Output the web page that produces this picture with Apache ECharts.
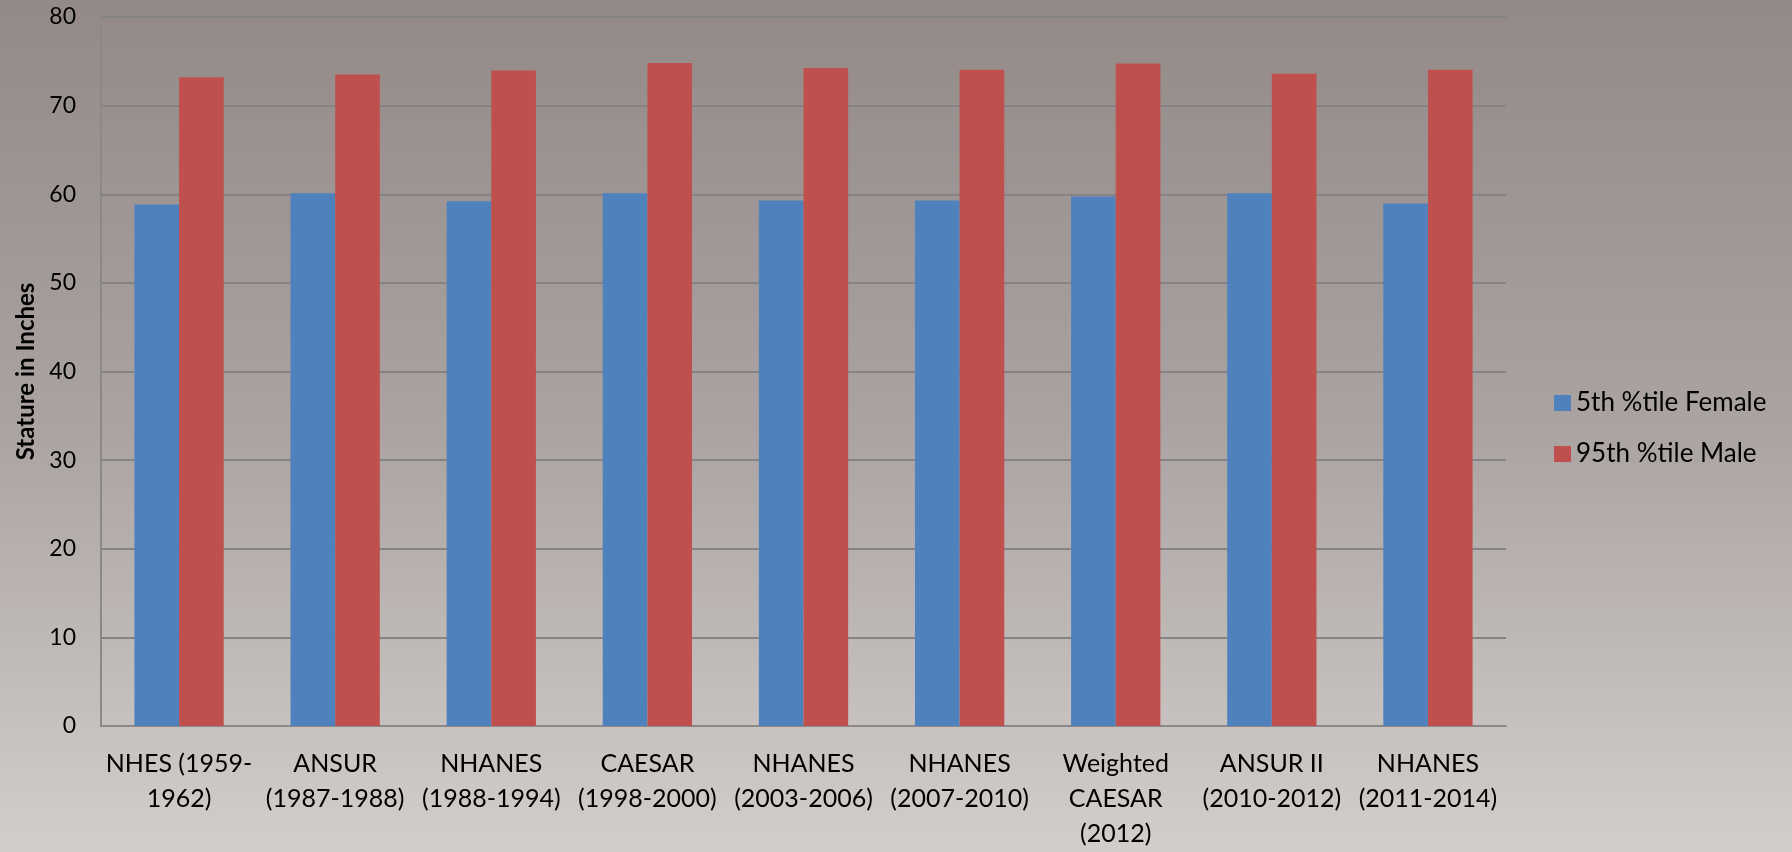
<!DOCTYPE html>
<html>
<head>
<meta charset="utf-8">
<title>Stature in Inches</title>
<script src="https://cdn.jsdelivr.net/npm/echarts@6/dist/echarts.min.js"></script>
<style>
  html, body { margin: 0; padding: 0; }
  #chart { width: 1792px; height: 852px; }
</style>
</head>
<body>
<div id="chart"></div>
<script>
// survey names, wrapped the way the original axis shows them
const categories = [
  'NHES (1959-\n1962)',
  'ANSUR\n(1987-1988)',
  'NHANES\n(1988-1994)',
  'CAESAR\n(1998-2000)',
  'NHANES\n(2003-2006)',
  'NHANES\n(2007-2010)',
  'Weighted\nCAESAR\n(2012)',
  'ANSUR II\n(2010-2012)',
  'NHANES\n(2011-2014)'
]
const female5th = [58.85, 60.1, 59.2, 60.1, 59.3, 59.3, 59.75, 60.1, 58.95]
const male95th = [73.2, 73.5, 73.95, 74.8, 74.25, 74.05, 74.75, 73.6, 74.05]
const yTicks = { min: 0, max: 80, interval: 10 }

const chart = echarts.init(document.getElementById('chart'))
const font = 'Lato'

chart.setOption({
  backgroundColor: new echarts.graphic.LinearGradient(0, 0, 0, 1, [
    { offset: 0, color: '#938a88' },
    { offset: 0.5, color: '#aaa3a1' },
    { offset: 1, color: '#d3cecb' }
  ]),
  animation: false,
  grid: {
    left: 101,
    right: 286,
    top: 17,
    bottom: 126
  },
  legend: {
    orient: 'vertical',
    left: 1549,
    top: 385,
    itemWidth: 17,
    itemHeight: 16,
    itemGap: 25,
    icon: 'rect',
    textStyle: {
      fontFamily: font,
      fontSize: 26,
      lineHeight: 26,
      color: '#000'
    },
    data: ['5th %tile Female', '95th %tile Male']
  },
  xAxis: {
    type: 'category',
    data: categories,
    axisTick: { show: false },
    axisLine: { lineStyle: { color: '#8a8888', width: 2 } },
    axisLabel: {
      interval: 0,
      margin: 20,
      fontFamily: font,
      fontSize: 25,
      lineHeight: 35,
      color: '#000'
    }
  },
  yAxis: {
    type: 'value',
    min: yTicks.min,
    max: yTicks.max,
    interval: yTicks.interval,
    name: 'Stature in Inches',
    nameLocation: 'middle',
    nameRotate: 90,
    nameGap: 62,
    nameTextStyle: {
      fontFamily: font,
      fontSize: 24,
      fontWeight: 'bold',
      color: '#000'
    },
    axisLine: { show: true, lineStyle: { color: '#8a8888', width: 2 } },
    axisTick: { show: false },
    axisLabel: {
      margin: 25,
      fontFamily: font,
      fontSize: 23,
      color: '#000'
    },
    splitLine: { lineStyle: { color: '#858383', width: 2 } }
  },
  series: [
    {
      name: '5th %tile Female',
      type: 'bar',
      data: female5th,
      barWidth: '28.6%',
      barGap: '0%',
      itemStyle: { color: '#4f81bd' }
    },
    {
      name: '95th %tile Male',
      type: 'bar',
      data: male95th,
      barWidth: '28.6%',
      barGap: '0%',
      itemStyle: { color: '#c0504d' }
    }
  ]
})
</script>
</body>
</html>
